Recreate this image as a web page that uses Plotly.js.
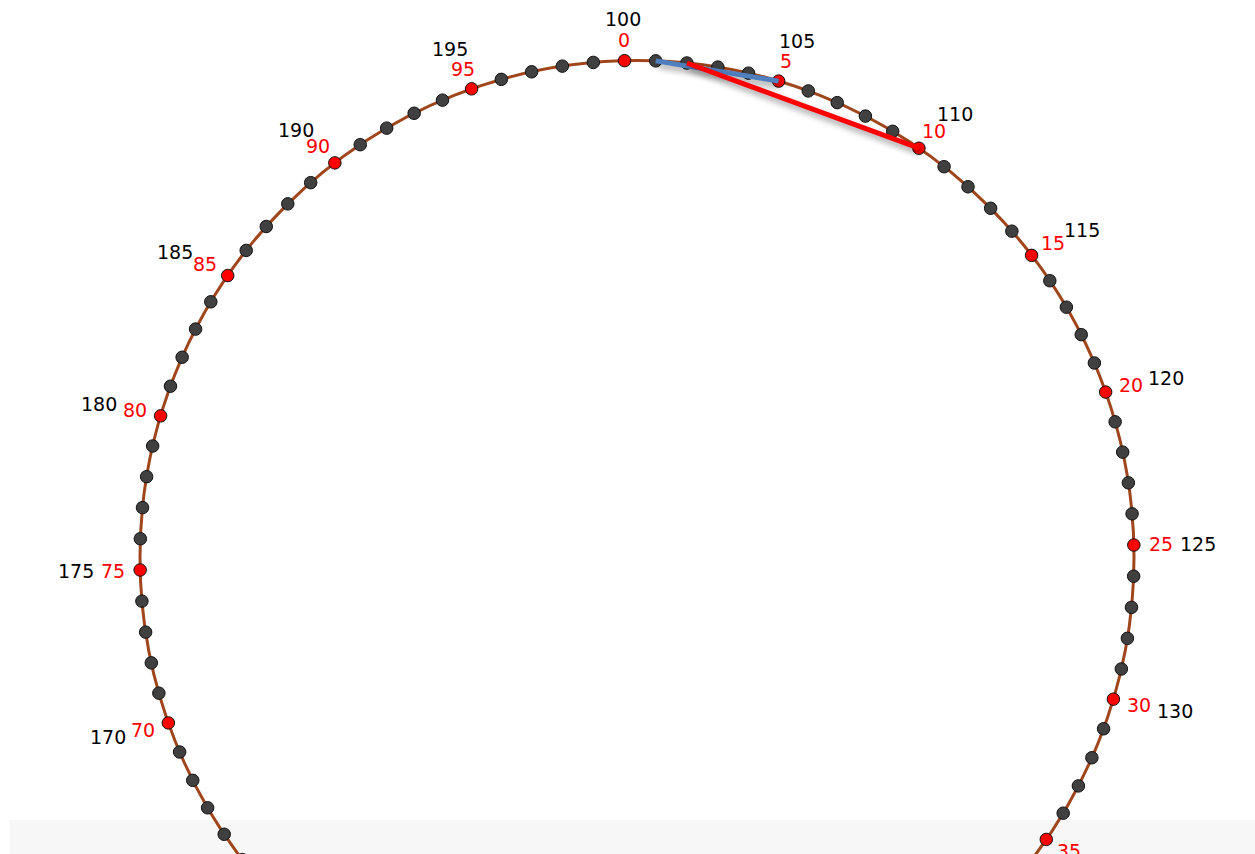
<!DOCTYPE html>
<html>
<head>
<meta charset="utf-8">
<script src="https://cdn.plot.ly/plotly-3.0.1.min.js"></script>
<style>
  html, body { margin: 0; padding: 0; background: #ffffff; overflow: hidden; }
  #chart { width: 1255px; height: 854px; }
</style>
</head>
<body>
<div id="chart"></div>
<script>
// ---- data ----
const pointIndex = [
  0,1,2,3,4,5,6,7,8,9,10,11,12,13,14,15,16,17,18,19,
  20,21,22,23,24,25,26,27,28,29,30,31,32,33,34,35,36,37,38,39,
  40,41,42,43,44,45,46,47,48,49,50,51,52,53,54,55,56,57,58,59,
  60,61,62,63,64,65,66,67,68,69,70,71,72,73,74,75,76,77,78,79,
  80,81,82,83,84,85,86,87,88,89,90,91,92,93,94,95,96,97,98,99
];
const redLabels   = [0,5,10,15,20,25,30,35,40,45,50,55,60,65,70,75,80,85,90,95];
const blackLabels = [100,105,110,115,120,125,130,135,140,145,150,155,160,165,170,175,180,185,190,195];
const chordFrom   = [1, 2];
const chordTo     = [5, 10];

// ---- layout parameters ----
const W = 1255, H = 854;
const CX = 637, CY = 557.5, RPX = 497;     // circle centre and radius in pixels
const ROT = -1.44;                          // rotation of point 0 from the top (deg, clockwise)
const STEP = 360 / pointIndex.length;

function ang(k) { return (k * STEP + ROT) * Math.PI / 180; }
function px(k) { return Math.sin(ang(k)); }
function py(k) { return Math.cos(ang(k)); }

const isRed = k => k % 5 === 0;

const markerTrace = {
  type: 'scatter', mode: 'markers',
  x: pointIndex.map(px), y: pointIndex.map(py),
  marker: {
    size: 12.5,
    color: pointIndex.map(k => isRed(k) ? '#ff0000' : '#404040'),
    line: { color: '#111111', width: 1 }
  },
  hoverinfo: 'skip', showlegend: false
};

const chordColors = ['#4f7fbf', '#ff0000'];
const chordWidths = [5, 5];
const chordTraces = chordFrom.map((a, i) => ({
  type: 'scatter', mode: 'lines',
  x: [px(a), px(chordTo[i])], y: [py(a), py(chordTo[i])],
  line: { color: chordColors[i], width: chordWidths[i] },
  hoverinfo: 'skip', showlegend: false
}));

const font = { family: 'DejaVu Sans, Verdana, sans-serif', size: 19 };
const annotations = [];
redLabels.forEach((lab, i) => {
  const k = lab;
  const t = ang(k);
  annotations.push({
    x: px(k), y: py(k), xref: 'x', yref: 'y',
    text: String(lab), showarrow: false,
    xshift: 27 * Math.sin(t), yshift: 21 * Math.cos(t),
    font: Object.assign({}, font, { color: '#ff0000' })
  });
  annotations.push({
    x: px(k), y: py(k), xref: 'x', yref: 'y',
    text: String(blackLabels[i]), showarrow: false,
    xshift: 64 * Math.sin(t), yshift: 42 * Math.cos(t),
    font: Object.assign({}, font, { color: '#000000' })
  });
});

const layout = {
  width: W, height: H,
  margin: { l: 0, r: 0, t: 0, b: 0, pad: 0 },
  paper_bgcolor: '#ffffff', plot_bgcolor: '#ffffff',
  showlegend: false,
  xaxis: {
    range: [(0 - CX) / RPX, (W - CX) / RPX],
    visible: false, showgrid: false, zeroline: false, fixedrange: true
  },
  yaxis: {
    range: [-(H - CY) / RPX, CY / RPX],
    visible: false, showgrid: false, zeroline: false, fixedrange: true
  },
  shapes: [
    { type: 'rect', xref: 'paper', yref: 'paper', x0: 10 / W, x1: 1, y0: 0, y1: 34 / H,
      fillcolor: '#f7f7f7', line: { width: 0 }, layer: 'below' },
    { type: 'circle', xref: 'x', yref: 'y', x0: -1, y0: -1, x1: 1, y1: 1,
      line: { color: '#a0461c', width: 3 }, layer: 'below' }
  ],
  annotations: annotations
};

Plotly.newPlot('chart', [markerTrace].concat(chordTraces), layout,
  { displayModeBar: false, staticPlot: true }).then(() => {
  const traces = document.querySelectorAll('#chart .scatterlayer .trace');
  for (let i = 1; i < traces.length; i++) {
    traces[i].style.filter = 'drop-shadow(2px 4px 3px rgba(0,0,0,0.4))';
  }
});
</script>
</body>
</html>
